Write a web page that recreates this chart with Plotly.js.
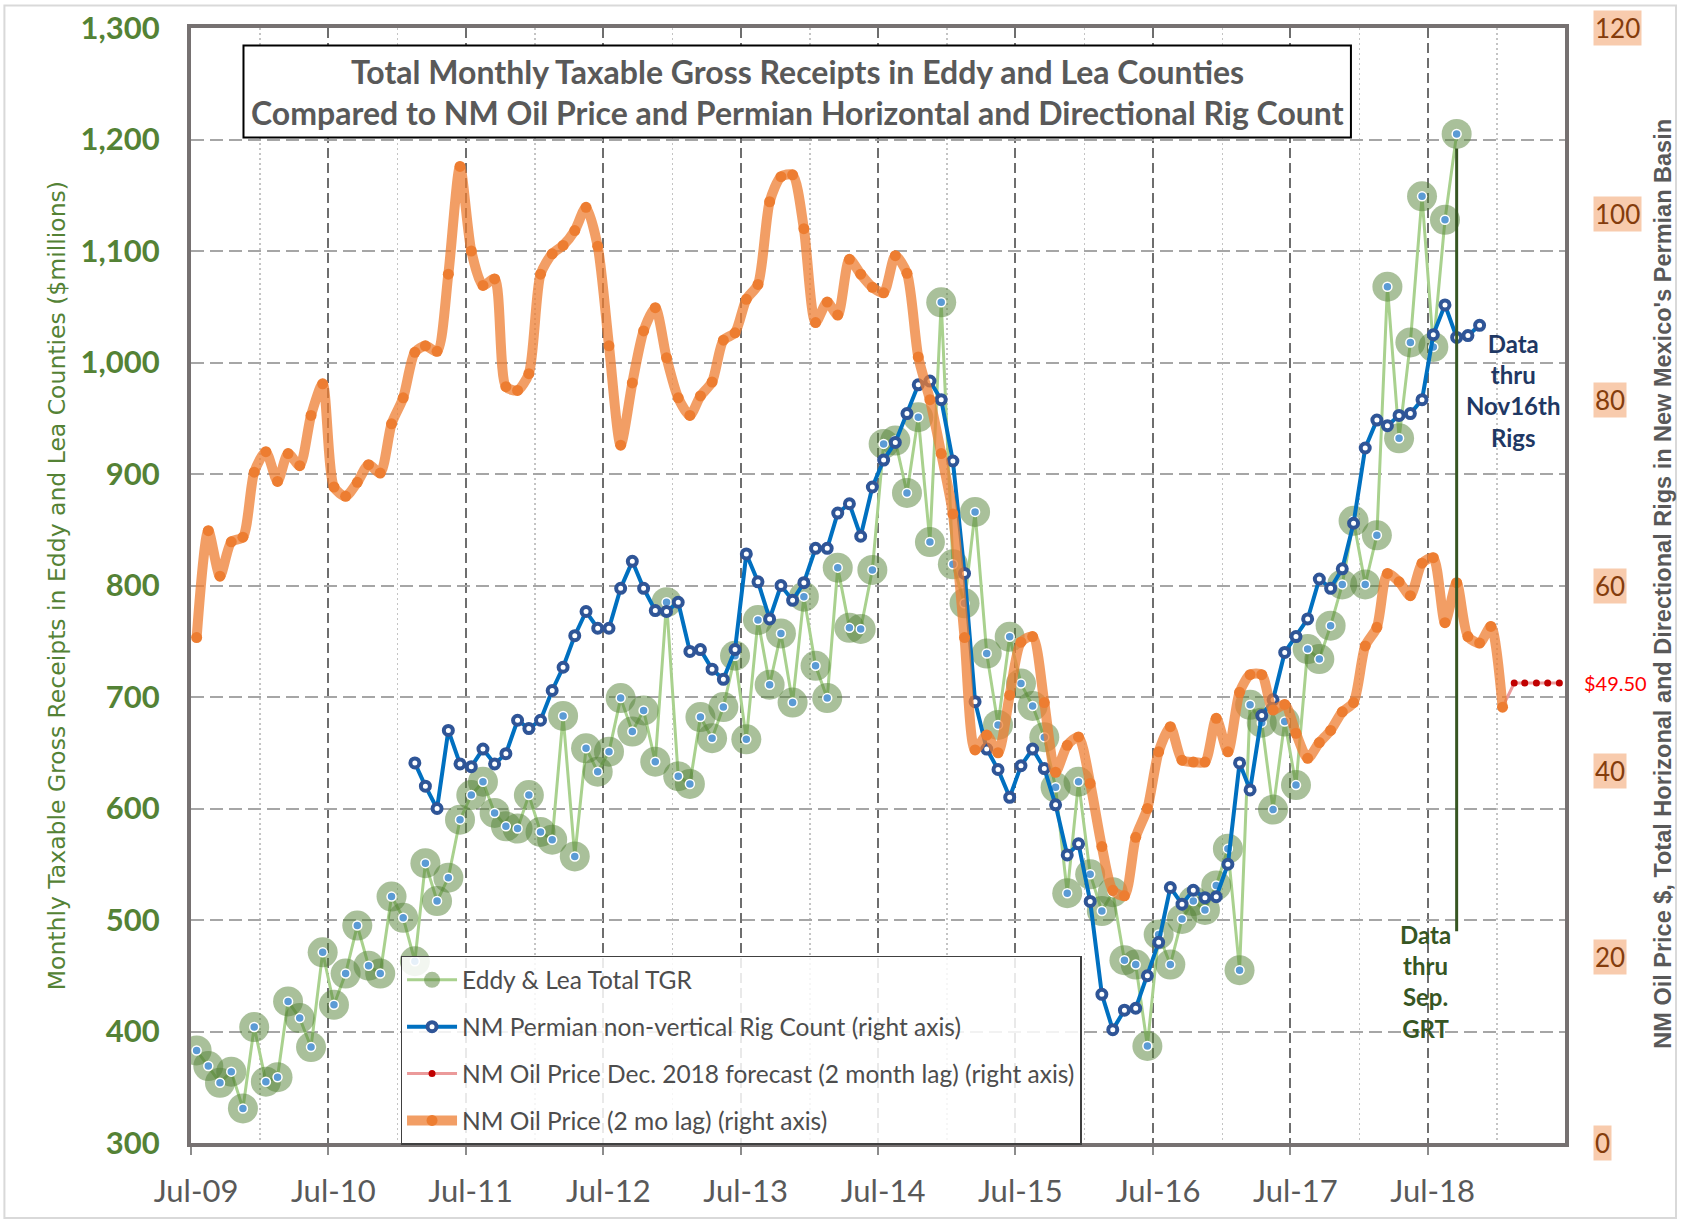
<!DOCTYPE html>
<html>
<head>
<meta charset="utf-8">
<script src="https://cdn.plot.ly/plotly-3.0.1.min.js"></script>
<style>
html,body{margin:0;padding:0;background:#fff;}
#chart{width:1681px;height:1222px;}
</style>
</head>
<body>
<div id="chart"></div>
<script>
// ---------------- DATA ----------------
const tgrStart = '2009-07';
const tgrValues = [
  383,369,354,364,331,404,355,359,427,412,386,471,
  424,452,495,459,452,521,502,463,551,517,538,590,
  612,624,596,584,582,612,579,572,683,557,654,633,
  651,699,669,688,642,785,629,622,682,663,691,737,
  662,769,711,757,695,790,728,699,816,762,761,814,
  927,930,883,951,839,1054,819,784,866,739,675,754,
  712,692,664,619,524,624,541,508,525,464,460,387,
  487,460,501,517,509,531,564,455,693,677,599,678,
  621,743,734,764,801,858,801,845,1068,932,1018,1149,
  1014,1128,1205
];

const rigStart = '2011-02';
const rigValues = [
  40.9,38.4,36.0,44.4,40.8,40.5,42.4,40.8,41.9,45.5,44.6,45.5,
  48.7,51.2,54.6,57.2,55.4,55.4,59.7,62.6,59.7,57.3,57.2,58.2,
  52.9,53.1,51.0,49.9,53.1,63.4,60.4,56.4,60.0,58.4,60.3,64.0,
  64.0,67.8,68.8,65.3,70.6,73.5,75.4,78.5,81.6,82.0,80.0,73.4,
  61.3,47.5,42.4,40.2,37.2,40.6,42.4,40.3,36.4,31.0,32.2,26.0,
  16.0,12.2,14.3,14.5,18.0,21.6,27.5,25.7,27.2,26.4,26.5,30.0,
  40.9,38.0,46.0,47.7,52.8,54.5,56.4,60.7,59.7,61.8,66.7,74.8,
  77.8,77.2,78.3,78.5,80.0,87.0,90.2,86.7,86.9,88.0
];

const oilStart = '2009-07';
const oilValues = [
  54.4,65.9,61.0,64.7,65.2,72.2,74.4,71.2,74.2,72.9,78.3,81.7,
  70.6,69.6,71.1,73.0,72.1,77.4,80.2,85.1,85.8,85.2,93.5,105.1,
  96.0,92.3,93.0,81.4,81.0,82.8,93.5,95.7,96.6,98.2,100.7,96.5,
  85.8,75.1,81.8,87.4,89.9,84.5,80.2,78.3,80.4,81.9,86.4,87.2,
  90.8,92.4,101.3,104.0,104.2,98.4,88.3,90.5,89.1,95.1,93.5,92.1,
  91.5,95.5,93.6,84.6,80.0,74.2,67.7,54.4,42.3,43.9,42.0,48.2,
  53.9,54.5,47.4,39.9,42.8,43.7,38.7,31.9,27.2,26.6,32.9,36.0,
  42.1,44.8,41.2,41.0,41.0,45.7,42.1,48.5,50.4,50.4,46.6,47.2,
  44.1,41.4,43.1,44.4,46.4,47.4,53.5,55.5,61.3,60.4,58.9,62.4,
  63.0,56.0,60.3,54.5,53.8,55.6,46.9
];

const forecastStart = '2019-01';
const forecastValues = [46.9,49.5,49.5,49.5,49.5,49.5];
const forecastLabel = '$49.50';

const xTickLabels = ['Jul-09','Jul-10','Jul-11','Jul-12','Jul-13','Jul-14','Jul-15','Jul-16','Jul-17','Jul-18'];
const leftTicks = [300,400,500,600,700,800,900,1000,1100,1200,1300];
const rightTicks = [0,20,40,60,80,100,120];

const seriesNames = [
  'Eddy & Lea Total TGR',
  'NM Permian non-vertical Rig Count (right axis)',
  'NM Oil Price Dec. 2018 forecast (2 month lag) (right axis)',
  'NM Oil Price (2 mo lag) (right axis)'
];

// --------------- HELPERS ---------------
function monthDates(start, n) {
  const [y0, m0] = start.split('-').map(Number);
  const out = [];
  for (let i = 0; i < n; i++) {
    const k = m0 - 1 + i;
    const yy = y0 + Math.floor(k / 12);
    const mm = (k % 12) + 1;
    out.push(yy + '-' + String(mm).padStart(2, '0') + '-16');
  }
  return out;
}
const yearOf = lbl => 2000 + parseInt(lbl.split('-')[1], 10);
const julTicks = xTickLabels.map(l => yearOf(l) + '-07-01');
const janTicks = xTickLabels.map(l => (yearOf(l) + 1) + '-01-01');

const tgrX = monthDates(tgrStart, tgrValues.length);
const rigX = monthDates(rigStart, rigValues.length);
const oilX = monthDates(oilStart, oilValues.length);
const fcX = monthDates(forecastStart, forecastValues.length);

const FONT = 'Lato, "Open Sans", sans-serif';

// --------------- TRACES ---------------
const traces = [
  {
    x: tgrX, y: tgrValues, name: seriesNames[0], type: 'scatter', mode: 'lines+markers',
    yaxis: 'y', legendgroup: 'g1',
    line: {color: '#a9d18e', width: 3},
    marker: {size: 30, color: 'rgba(84,130,53,0.5)', line: {width: 0}}
  },
  {
    x: tgrX, y: tgrValues, name: seriesNames[0], type: 'scatter', mode: 'markers',
    yaxis: 'y', legendgroup: 'g1', showlegend: false,
    marker: {size: 9, color: '#5b9bd5', line: {color: '#ffffff', width: 1.5}}
  },
  {
    x: rigX, y: rigValues, name: seriesNames[1], type: 'scatter', mode: 'lines+markers',
    yaxis: 'y2', legendgroup: 'g2',
    line: {color: '#0070c0', width: 4},
    marker: {size: 9, color: '#ffffff', line: {color: '#2f5597', width: 4}}
  },
  {
    x: fcX, y: forecastValues, name: seriesNames[2], type: 'scatter', mode: 'lines+markers',
    yaxis: 'y2', legendgroup: 'g3',
    line: {color: '#eb9a9a', width: 3},
    marker: {size: 7, color: '#c00000'}
  },
  {
    x: oilX, y: oilValues, name: seriesNames[3], type: 'scatter', mode: 'lines+markers',
    yaxis: 'y2', legendgroup: 'g4',
    line: {color: 'rgba(237,125,49,0.75)', width: 10, shape: 'spline', smoothing: 0.7},
    marker: {size: 11, color: '#ed7d31'}
  }
];

// --------------- ANNOTATIONS ---------------
const annotations = [];
annotations.push({
  xref: 'paper', yref: 'paper', x: 0.4416, y: 0.961, xanchor: 'center', yanchor: 'middle',
  text: 'Total Monthly Taxable Gross Receipts in Eddy and Lea Counties', showarrow: false,
  font: {family: FONT, size: 32, color: '#595959', weight: 'bold'}
});
annotations.push({
  xref: 'paper', yref: 'paper', x: 0.4416, y: 0.9242, xanchor: 'center', yanchor: 'middle',
  text: 'Compared to NM Oil Price and Permian Horizontal and Directional Rig Count', showarrow: false,
  font: {family: FONT, size: 32, color: '#595959', weight: 'bold'}
});
annotations.push({
  xref: 'paper', yref: 'paper', x: -0.0979, y: 0.4998, xanchor: 'center', yanchor: 'middle',
  textangle: -90, showarrow: false,
  text: 'Monthly Taxable Gross Receipts in Eddy and Lea Counties ($millions)',
  font: {family: '"DejaVu Sans", Verdana, sans-serif', size: 23.5, color: '#548235'}
});
annotations.push({
  xref: 'paper', yref: 'paper', x: 1.0713, y: 0.5016, xanchor: 'center', yanchor: 'middle',
  textangle: -90, showarrow: false,
  text: "NM Oil Price $, Total Horizonal and Directional Rigs in New Mexico's Permian Basin",
  font: {family: '"Liberation Sans", Arial, sans-serif', size: 23.5, color: '#595959', weight: 'bold'}
});
rightTicks.forEach(v => annotations.push({
  xref: 'paper', yref: 'y2', x: 1.0204, y: v, xanchor: 'left', yanchor: 'middle',
  text: String(v), showarrow: false, bgcolor: '#f8cbad', borderpad: 1,
  font: {family: FONT, size: 26, color: '#843c0c'}
}));
annotations.push({
  xref: 'paper', yref: 'y2', x: 1.0124, y: forecastValues[forecastValues.length - 1],
  xanchor: 'left', yanchor: 'middle', text: forecastLabel, showarrow: false,
  font: {family: FONT, size: 20, color: '#ff0000'}
});
annotations.push({
  xref: 'paper', yref: 'y', x: (1514 - 191.5) / 1373.5, y: 975, xanchor: 'center', yanchor: 'middle',
  text: 'Data<br>thru<br>Nov16th<br>Rigs', showarrow: false, align: 'center',
  font: {family: FONT, size: 24, color: '#1f3864', weight: 'bold'}
});
annotations.push({
  xref: 'paper', yref: 'y', x: (1426 - 191.5) / 1373.5, y: 445, xanchor: 'center', yanchor: 'middle',
  text: 'Data<br>thru<br>Sep.<br>GRT', showarrow: false, align: 'center',
  font: {family: FONT, size: 24, color: '#375623', weight: 'bold'}
});

// --------------- SHAPES ---------------
const lastTgrX = tgrX[tgrX.length - 1];
const lastTgrY = tgrValues[tgrValues.length - 1];
const shapes = [
  {type: 'rect', xref: 'paper', yref: 'paper', x0: 0.0382, x1: 0.8442, y0: 0.9017, y1: 0.9843,
   line: {color: '#000000', width: 2}, fillcolor: '#ffffff', layer: 'above'},
  {type: 'line', xref: 'x', yref: 'y', x0: lastTgrX, x1: lastTgrX, y0: 490, y1: lastTgrY - 13,
   line: {color: '#375623', width: 3}, layer: 'above'},
  {type: 'rect', xref: 'paper', yref: 'paper', x0: -0.1358, x1: 1.0808, y0: -0.0673, y1: 1.0202,
   line: {color: '#d9d9d9', width: 2}, fillcolor: 'rgba(0,0,0,0)', layer: 'below'}
];

// --------------- LAYOUT ---------------
const layout = {
  width: 1681, height: 1222,
  margin: {l: 191, r: 116, t: 28, b: 79, pad: 0},
  paper_bgcolor: '#ffffff', plot_bgcolor: '#ffffff',
  showlegend: true,
  legend: {
    x: 0.1525, y: 0.1678, xanchor: 'left', yanchor: 'top',
    bgcolor: 'rgba(255,255,255,0.85)', bordercolor: '#404040', borderwidth: 1.5,
    font: {family: FONT, size: 24.5, color: '#4d4d4d'},
    traceorder: 'grouped', tracegroupgap: 12, itemwidth: 50
  },
  xaxis: {
    type: 'date', range: ['2009-07-01', '2019-07-01'],
    tickmode: 'array', tickvals: julTicks, ticktext: xTickLabels,
    ticks: 'outside', ticklen: 8, tickwidth: 2, tickcolor: '#8c8c8c',
    ticklabelshift: 5, ticklabelstandoff: 10,
    tickfont: {family: FONT, size: 31, color: '#595959'},
    showgrid: true, gridcolor: '#6e6e6e', gridwidth: 2, griddash: '10px,5px',
    minor: {tickmode: 'array', tickvals: janTicks, showgrid: true, gridcolor: '#c4c4c4',
            gridwidth: 1.5, griddash: '2px,3px', ticks: ''},
    showline: true, linecolor: '#767171', linewidth: 4, mirror: true, zeroline: false
  },
  yaxis: {
    range: [300, 1300], tickmode: 'array', tickvals: leftTicks, tickformat: ',',
    ticks: '', ticklabelstandoff: 21,
    tickfont: {family: FONT, size: 31, color: '#548235', weight: 'bold'},
    showgrid: true, gridcolor: '#a6a6a6', gridwidth: 2, griddash: '13px,6px',
    showline: true, linecolor: '#767171', linewidth: 4, mirror: true, zeroline: false
  },
  yaxis2: {
    range: [0, 120], overlaying: 'y', side: 'right',
    showgrid: false, showticklabels: false, ticks: '', showline: false, zeroline: false
  },
  annotations: annotations,
  shapes: shapes
};

Plotly.newPlot('chart', traces, layout, {displayModeBar: false, staticPlot: true});
</script>
</body>
</html>
